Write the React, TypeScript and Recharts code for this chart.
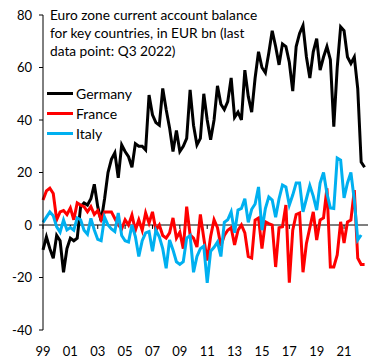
import { LineChart, Line, XAxis, YAxis, ReferenceLine, Legend } from "recharts";

// quarterly, 1999 Q1 .. 2022 Q3, EUR bn
const germany = [
  -9.5, -4.5, -9, -12.7, -4, -6, -18, -9, -5, -6, -5, 7, 8.4, 7.6, 10, 15.5,
  7, 1.5, 10, 20, 25, 27.5, 18, 30.5, 28, 26, 22, 31, 30, 30, 28.6, 49.5,
  42, 39, 38, 52, 44, 37, 28, 36, 28, 30, 33, 51.5, 38, 30.5, 33, 50,
  40, 32.5, 40, 53, 46, 44, 47, 56, 41, 43, 40, 59, 49, 43, 56, 66,
  60, 58, 65.5, 74, 68, 61, 69, 68, 62, 51, 68, 73, 76, 64, 56, 66,
  71, 59, 64, 68, 63, 37.5, 60, 75.5, 74, 64, 61.5, 64, 52, 24, 22,
];
const france = [
  9.5, 13, 14, 12, 2, 5, 5.5, 4, 6.5, 2, 8.4, 7.6, 7, 5, 7, 4,
  5.5, 2, 5, 5, 5, 2.5, 0, -1.5, 2, 0, 3.8, -2, 2, -2, 4.6, 0.7,
  5, -2, 0, -4, -5, -3, 2.7, -5, -2.7, -9, 7, -3.8, -5, -8.4, 4, -5,
  -13.5, -4.4, 2, -1, -8, -4, -2, -1, -7.6, -2, 0, -3, -12, -12.6, 1.9, 2.7,
  -9, 1.2, 0.5, 0, -16, -1, -0.7, 7.6, -22, -2, 4, 4.6, -18, -7, -1, 5,
  -5.7, 1.9, 2.7, 14, -16, -16, -11.4, 1.2, -6.9, 1.2, 1.9, 13.3, -12.6, -15, -15,
];
// last Italian data point is Q2 2022
const italy = [
  1, 3, 5, 3.5, -0.7, -2.7, 1.9, -1.9, -1, -2, 2.7, 2, -2, -3.5, 2.5, -1.9,
  -5.5, -6, 3, 0, -1.5, -2.5, 4.6, -4, -6, -6.5, 0, -4.4, -12, -6, -3, -2.5,
  -10, -2, -4.5, -9, -16.5, -5.7, -9.5, -14, -15, -14, -5, -4, -18, -12, -9, -8,
  -22, -10, -8.5, -6.5, -12, 1, 2, 5, -3, 5.7, 6.3, 10, 1, 6, 8, 14.5,
  -2, 6.3, 10.7, 9.5, 3, 10, 15.2, 14.5, 7.6, 11.4, 16, 16, 5, 10, 15, 11,
  5.7, 16, 20, 12, 6.5, 6.3, 25.5, 24.7, 10.3, 16, 20, 9.5, -5.7, -3.8,
];

const xTicks = [0, 8, 16, 24, 32, 40, 48, 56, 64, 72, 80, 88];
const xLabels = ["99", "01", "03", "05", "07", "09", "11", "13", "15", "17", "19", "21"];
const yTicks = [-40, -20, 0, 20, 40, 60, 80];

const series = [
  { key: "germany", name: "Germany", color: "#000000" },
  { key: "france", name: "France", color: "#ff0000" },
  { key: "italy", name: "Italy", color: "#00b0f0" },
];

const data = germany.map((g, i) => ({
  i,
  germany: g,
  france: france[i],
  italy: i < italy.length ? italy[i] : null,
}));

const FONT = "Lato, 'Liberation Sans', sans-serif";

const XTick = (props: any) => {
  const { x, y, payload } = props;
  const idx = xTicks.indexOf(payload.value);
  return (
    <text x={x} y={y} dy={18} textAnchor="middle" fill="#000" fontSize={13} fontFamily={FONT}>
      {xLabels[idx]}
    </text>
  );
};

const LegendBox = () => (
  <div style={{ fontFamily: FONT, fontSize: 14, color: "#000" }}>
    {series.map((s) => (
      <div key={s.key} style={{ display: "flex", alignItems: "center", height: 20 }}>
        <span style={{ display: "inline-block", width: 26, height: 3, background: s.color, marginRight: 3 }} />
        <span>{s.name}</span>
      </div>
    ))}
  </div>
);

export default function App() {
  return (
    <div style={{ position: "relative", width: 374, height: 353 }}>
      <LineChart width={374} height={353} data={data} margin={{ top: 7, right: 14, bottom: 6, left: 0 }}>
        <XAxis
          type="number"
          dataKey="i"
          domain={[0, 95]}
          ticks={xTicks}
          axisLine={false}
          tickLine={false}
          height={25}
          tick={<XTick />}
          interval={0}
        />
        <YAxis
          domain={[-40, 80]}
          ticks={yTicks}
          width={35}
          tickSize={4}
          tickMargin={7}
          axisLine={{ stroke: "#000" }}
          tickLine={{ stroke: "#000" }}
          tick={{ fill: "#000", fontSize: 13, fontFamily: FONT }}
          interval={0}
        />
        <ReferenceLine y={0} stroke="#000" />
        {xTicks.map((t) => (
          <ReferenceLine
            key={t}
            segment={[{ x: t, y: 0 }, { x: t, y: -1.5 }]}
            stroke="#000"
          />
        ))}
        {series.map((s) => (
          <Line
            key={s.key}
            type="linear"
            dataKey={s.key}
            name={s.name}
            stroke={s.color}
            strokeWidth={3}
            dot={false}
            isAnimationActive={false}
          />
        ))}
        <Legend
          layout="vertical"
          align="center"
          verticalAlign="middle"
          content={<LegendBox />}
          wrapperStyle={{ top: 75, left: 39, width: "auto" }}
        />
      </LineChart>
      <div
        style={{
          position: "absolute",
          left: 42,
          top: -2,
          fontFamily: FONT,
          fontSize: 13.7,
          lineHeight: "18px",
          color: "#000",
        }}
      >
        Euro zone current account balance
        <br />
        for key countries, in EUR bn (last
        <br />
        data point: Q3 2022)
      </div>
    </div>
  );
}
